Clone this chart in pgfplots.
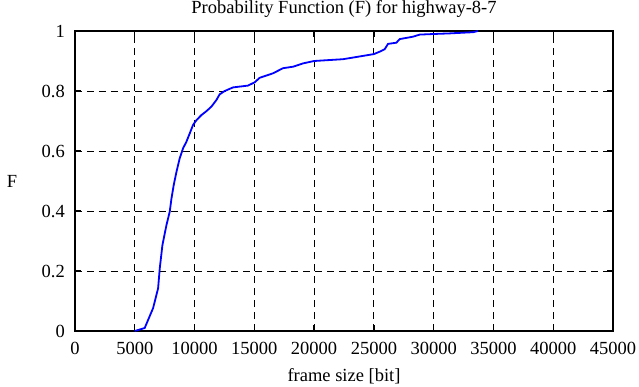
\documentclass[border=0pt]{standalone}
\usepackage{fontspec}
\setmainfont{Liberation Serif}
\usepackage{pgfplots}
\pgfplotsset{compat=1.18}
\begin{document}
\begin{tikzpicture}
\begin{axis}[
  scale only axis,
  width=538bp, height=300bp,
  xmin=0, xmax=45000, ymin=0, ymax=1,
  xtick={0,5000,...,45000},
  ytick={0,0.2,0.4,0.6,0.8,1},
  scaled x ticks=false,
  /pgf/number format/assume math mode=true,
  xticklabel={\pgfmathprintnumber[fixed,1000 sep={}]{\tick}},
  yticklabel={\pgfmathprintnumber[fixed,precision=1]{\tick}},
  font=\fontsize{18.5bp}{22bp}\selectfont,
  tick align=inside,
  major tick length=6bp,
  axis line style={line width=1.6bp},
  every tick/.style={black, line width=1.4bp},
  grid=major,
  major grid style={black, line width=0.9bp, dash pattern=on 7bp off 5bp},
  xticklabel style={anchor=base, yshift=-23bp, inner sep=0pt},
  yticklabel style={anchor=east, inner sep=0pt, xshift=-10bp},
  title={Probability Function (F) for highway-8-7},
  title style={at={(axis description cs:0.5,1)}, anchor=base, yshift=12bp, inner sep=0pt, font=\fontsize{18.5bp}{22bp}\selectfont},
  xlabel={frame size [bit]},
  xlabel style={at={(axis description cs:0.5,0)}, anchor=base, yshift=-50bp, inner sep=0pt},
  ylabel={F},
  ylabel style={rotate=-90, at={(axis description cs:-0.117,0.5)}, anchor=center, inner sep=0pt},
]
\addplot[blue, line width=1.8bp, sharp plot] coordinates {
(5000,0) (5830,0.01) (6530,0.076) (6950,0.142) (7090,0.209) (7315,0.287)
(7650,0.353) (7925,0.398) (8070,0.442) (8260,0.487) (8490,0.531)
(8760,0.576) (9040,0.609) (9320,0.631) (9600,0.659) (9875,0.687)
(10160,0.703) (10580,0.72) (11000,0.733) (11410,0.748) (11830,0.77)
(12100,0.789) (12525,0.80) (13220,0.812) (14470,0.818) (15030,0.829)
(15450,0.844) (16560,0.859) (17400,0.876) (18240,0.881) (19070,0.892)
(20000,0.90) (22420,0.906) (24090,0.917) (25000,0.923) (25480,0.931)
(25900,0.939) (26180,0.957) (26880,0.961) (27160,0.973) (28270,0.981)
(28830,0.988) (30000,0.99) (31340,0.992) (33290,0.996) (33700,1.0)
};
\coordinate (sw) at (rel axis cs:0,0);
\end{axis}
\pgfresetboundingbox
\path (sw) ++(-75bp,-56bp) rectangle ++(639bp,387bp);
\end{tikzpicture}
\end{document}
